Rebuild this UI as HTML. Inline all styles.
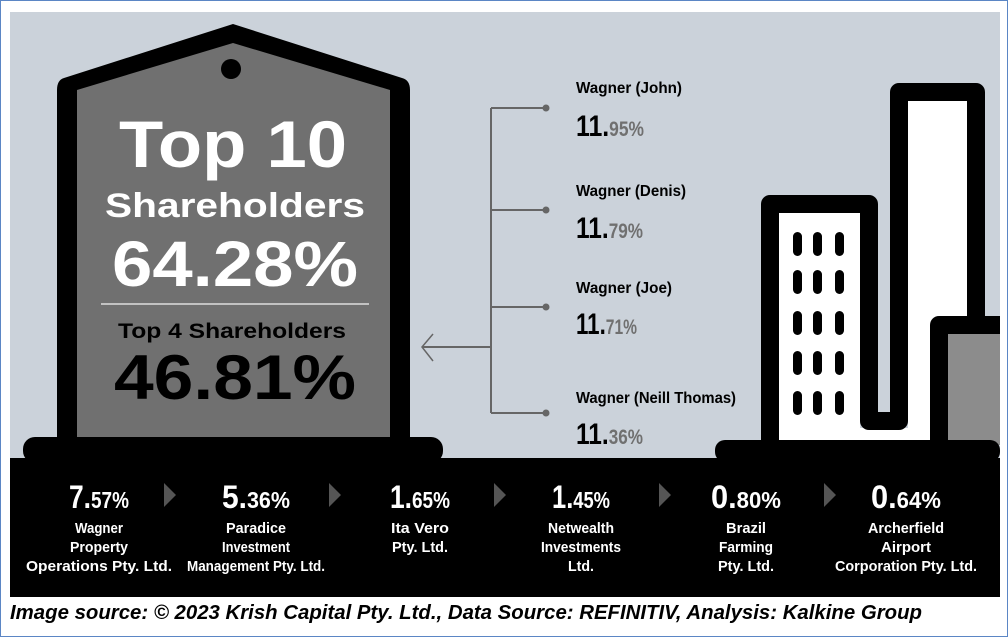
<!DOCTYPE html>
<html><head><meta charset="utf-8"><style>
html,body{margin:0;padding:0;background:#fff}
svg{display:block}
.c{font-family:"Liberation Sans",sans-serif;font-weight:bold}
</style></head><body>
<svg width="1008" height="637" viewBox="0 0 1008 637">
<rect x="0.5" y="0.5" width="1007" height="636" fill="#fff" stroke="#5b86c5"/>
<rect x="10" y="12" width="990" height="448" fill="#cbd2da"/>
<rect x="10" y="458" width="990" height="139" fill="#000"/>
<g>
<path d="M64 78 L233 24 L402 78 Q410 80 410 90 L410 445 L57 445 L57 90 Q57 80 64 78 Z" fill="#000"/>
<path d="M77 90 L233 43 L390 90 L390 440 L77 440 Z" fill="#707070"/>
<circle cx="231" cy="69" r="10" fill="#000"/>
<rect x="23" y="437" width="420" height="26" rx="12" fill="#000"/>
</g>
<text x="233" y="167" text-anchor="middle" font-family="Liberation Sans,sans-serif" font-weight="bold" font-size="66" fill="#fff" textLength="228" lengthAdjust="spacingAndGlyphs">Top 10</text>
<text x="235" y="217" text-anchor="middle" font-family="Liberation Sans,sans-serif" font-weight="bold" font-size="34" fill="#fff" textLength="260" lengthAdjust="spacingAndGlyphs">Shareholders</text>
<text x="235" y="286" text-anchor="middle" font-family="Liberation Sans,sans-serif" font-weight="bold" font-size="64" fill="#fff" textLength="246" lengthAdjust="spacingAndGlyphs">64.28%</text>
<line x1="101" y1="304" x2="369" y2="304" stroke="#ddd" stroke-width="1.5"/>
<text x="232" y="338" text-anchor="middle" font-family="Liberation Sans,sans-serif" font-weight="bold" font-size="21" fill="#000" textLength="228" lengthAdjust="spacingAndGlyphs">Top 4 Shareholders</text>
<text x="235" y="399" text-anchor="middle" font-family="Liberation Sans,sans-serif" font-weight="bold" font-size="63" fill="#000" textLength="242" lengthAdjust="spacingAndGlyphs">46.81%</text>
<g stroke="#666" stroke-width="2" fill="none">
<line x1="491" y1="108" x2="491" y2="413"/>
<line x1="491" y1="108" x2="546" y2="108"/>
<line x1="491" y1="210" x2="546" y2="210"/>
<line x1="491" y1="307" x2="546" y2="307"/>
<line x1="491" y1="413" x2="546" y2="413"/>
<line x1="422" y1="347" x2="491" y2="347"/>
<polyline points="433,334 422,347 433,361" stroke-width="1.5"/>
</g>
<g fill="#666"><circle cx="546" cy="108" r="3.5"/><circle cx="546" cy="210" r="3.5"/><circle cx="546" cy="307" r="3.5"/><circle cx="546" cy="413" r="3.5"/></g>
<g class="c">
<text x="576" y="93" font-size="16" textLength="106" lengthAdjust="spacingAndGlyphs">Wagner (John)</text>
<text x="576" y="136" font-size="30" textLength="68" lengthAdjust="spacingAndGlyphs">11.<tspan fill="#707070" font-size="21">95%</tspan></text>
<text x="576" y="196" font-size="16" textLength="110" lengthAdjust="spacingAndGlyphs">Wagner (Denis)</text>
<text x="576" y="238" font-size="30" textLength="67" lengthAdjust="spacingAndGlyphs">11.<tspan fill="#707070" font-size="21">79%</tspan></text>
<text x="576" y="293" font-size="16" textLength="96" lengthAdjust="spacingAndGlyphs">Wagner (Joe)</text>
<text x="576" y="334" font-size="30" textLength="61" lengthAdjust="spacingAndGlyphs">11.<tspan fill="#707070" font-size="21">71%</tspan></text>
<text x="576" y="403" font-size="16" textLength="160" lengthAdjust="spacingAndGlyphs">Wagner (Neill Thomas)</text>
<text x="576" y="444" font-size="30" textLength="67" lengthAdjust="spacingAndGlyphs">11.<tspan fill="#707070" font-size="21">36%</tspan></text>
</g>
<g>
<rect x="779" y="213" width="81" height="232" fill="#fff"/>
<rect x="908" y="101" width="59" height="344" fill="#fff"/>
<rect x="860" y="428" width="48" height="17" fill="#fff"/>
<rect x="948" y="334" width="52" height="111" fill="#8c8c8c"/>
<path d="M770 450 L770 204 L869 204 L869 421 L899 421 L899 92 L976 92 L976 325" fill="none" stroke="#000" stroke-width="18" stroke-linejoin="round"/>
<path d="M939 450 L939 325 L1000 325" fill="none" stroke="#000" stroke-width="18" stroke-linejoin="round"/>
<rect x="715" y="440" width="285" height="22" rx="10" fill="#000"/>
<g fill="#000">
<rect x="793" y="232" width="9" height="24" rx="4.5"/><rect x="813" y="232" width="9" height="24" rx="4.5"/><rect x="835" y="232" width="9" height="24" rx="4.5"/>
<rect x="793" y="270" width="9" height="24" rx="4.5"/><rect x="813" y="270" width="9" height="24" rx="4.5"/><rect x="835" y="270" width="9" height="24" rx="4.5"/>
<rect x="793" y="311" width="9" height="24" rx="4.5"/><rect x="813" y="311" width="9" height="24" rx="4.5"/><rect x="835" y="311" width="9" height="24" rx="4.5"/>
<rect x="793" y="351" width="9" height="24" rx="4.5"/><rect x="813" y="351" width="9" height="24" rx="4.5"/><rect x="835" y="351" width="9" height="24" rx="4.5"/>
<rect x="793" y="391" width="9" height="24" rx="4.5"/><rect x="813" y="391" width="9" height="24" rx="4.5"/><rect x="835" y="391" width="9" height="24" rx="4.5"/>
</g>
</g>
<g fill="#555">
<polygon points="164,483 164,507 176,495"/><polygon points="329,483 329,507 341,495"/><polygon points="494,483 494,507 506,495"/><polygon points="659,483 659,507 671,495"/><polygon points="824,483 824,507 836,495"/>
</g>
<g class="c" fill="#fff" text-anchor="middle" font-weight="normal">
<g><text x="99" y="508" font-size="32" font-weight="bold" textLength="60" lengthAdjust="spacingAndGlyphs">7.<tspan font-size="23">57%</tspan></text><text x="99" y="533" font-size="15" textLength="48" lengthAdjust="spacingAndGlyphs">Wagner</text><text x="99" y="552" font-size="15" textLength="58" lengthAdjust="spacingAndGlyphs">Property</text><text x="99" y="571" font-size="15" textLength="146" lengthAdjust="spacingAndGlyphs">Operations Pty. Ltd.</text></g>
<g><text x="256" y="508" font-size="32" font-weight="bold" textLength="68" lengthAdjust="spacingAndGlyphs">5.<tspan font-size="23">36%</tspan></text><text x="256" y="533" font-size="15" textLength="60" lengthAdjust="spacingAndGlyphs">Paradice</text><text x="256" y="552" font-size="15" textLength="68" lengthAdjust="spacingAndGlyphs">Investment</text><text x="256" y="571" font-size="15" textLength="138" lengthAdjust="spacingAndGlyphs">Management Pty. Ltd.</text></g>
<g><text x="420" y="508" font-size="32" font-weight="bold" textLength="60" lengthAdjust="spacingAndGlyphs">1.<tspan font-size="23">65%</tspan></text><text x="420" y="533" font-size="15" textLength="58" lengthAdjust="spacingAndGlyphs">Ita Vero</text><text x="420" y="552" font-size="15" textLength="56" lengthAdjust="spacingAndGlyphs">Pty. Ltd.</text></g>
<g><text x="581" y="508" font-size="32" font-weight="bold" textLength="58" lengthAdjust="spacingAndGlyphs">1.<tspan font-size="23">45%</tspan></text><text x="581" y="533" font-size="15" textLength="66" lengthAdjust="spacingAndGlyphs">Netwealth</text><text x="581" y="552" font-size="15" textLength="80" lengthAdjust="spacingAndGlyphs">Investments</text><text x="581" y="571" font-size="15" textLength="26" lengthAdjust="spacingAndGlyphs">Ltd.</text></g>
<g><text x="746" y="508" font-size="32" font-weight="bold" textLength="70" lengthAdjust="spacingAndGlyphs">0.<tspan font-size="23">80%</tspan></text><text x="746" y="533" font-size="15" textLength="40" lengthAdjust="spacingAndGlyphs">Brazil</text><text x="746" y="552" font-size="15" textLength="54" lengthAdjust="spacingAndGlyphs">Farming</text><text x="746" y="571" font-size="15" textLength="56" lengthAdjust="spacingAndGlyphs">Pty. Ltd.</text></g>
<g><text x="906" y="508" font-size="32" font-weight="bold" textLength="70" lengthAdjust="spacingAndGlyphs">0.<tspan font-size="23">64%</tspan></text><text x="906" y="533" font-size="15" textLength="76" lengthAdjust="spacingAndGlyphs">Archerfield</text><text x="906" y="552" font-size="15" textLength="50" lengthAdjust="spacingAndGlyphs">Airport</text><text x="906" y="571" font-size="15" textLength="142" lengthAdjust="spacingAndGlyphs">Corporation Pty. Ltd.</text></g>
</g>
<text x="10" y="619" font-family="Liberation Sans,sans-serif" font-style="italic" font-weight="bold" font-size="20" fill="#000" textLength="912" lengthAdjust="spacingAndGlyphs">Image source: © 2023 Krish Capital Pty. Ltd., Data Source: REFINITIV, Analysis: Kalkine Group</text>
</svg>
</body></html>
